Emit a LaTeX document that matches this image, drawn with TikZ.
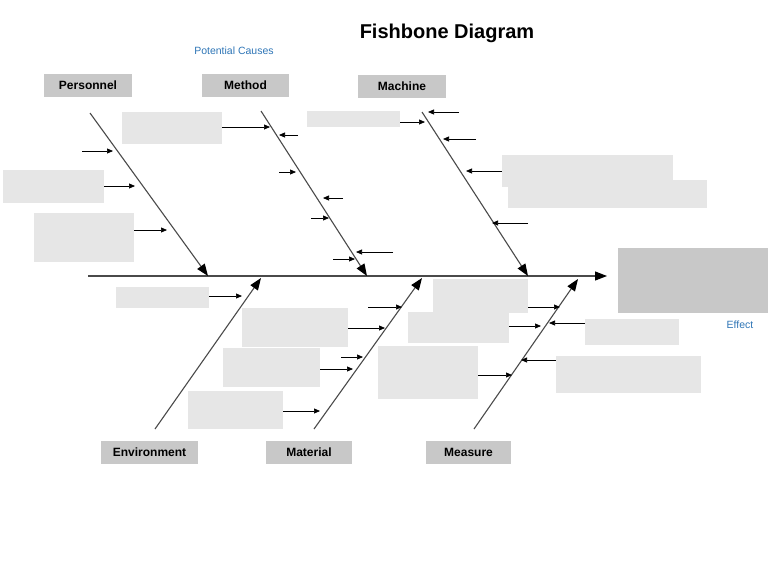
\documentclass[tikz,border=0pt]{standalone}
\usepackage{fontspec}
\setmainfont{Liberation Sans}
\usepackage{tikz}
\usetikzlibrary{positioning, arrows.meta}

\definecolor{causegray}{HTML}{E6E6E6}
\definecolor{labelgray}{HTML}{C8C8C8}
\definecolor{bonegray}{HTML}{4A4A4A}
\definecolor{noteblue}{HTML}{2E75B6}

\tikzset{
  category/.style={fill=labelgray, inner sep=0pt, minimum height=23pt,
    font=\bfseries\fontsize{12}{14}\selectfont},
  cause/.style={fill=causegray, inner sep=0pt},
  bone/.style={bonegray, line width=1.1pt,
    -{Triangle[length=12pt,width=9pt,color=black]}},
  twig/.style={black, line width=0.7pt, -{Triangle[length=6pt,width=5pt]}},
  note/.style={noteblue, font=\fontsize{10.5}{12}\selectfont},
}

\begin{document}
\begin{tikzpicture}[x=1pt, y=-1pt]
\useasboundingbox (0,0) rectangle (768,563);

% title and notes
\node[font=\bfseries\fontsize{20}{24}\selectfont] (title) at (447,33) {Fishbone Diagram};
\node[note] (causes) at (234,51) {Potential Causes};
\node[note] (effectnote) at (740,325) {Effect};

% categories
\node[category, minimum width=88pt] (pers) at (88,85.5) {Personnel};
\node[category, minimum width=87pt] (meth) at (245.5,85) {Method};
\node[category, minimum width=88pt] (mach) at (402,86) {Machine};
\node[category, minimum width=97pt] (envi) at (149.5,452.5) {Environment};
\node[category, minimum width=86pt] (mate) at (309,452) {Material};
\node[category, minimum width=85pt] (meas) at (468.5,452.5) {Measure};

% effect box
\node[fill=labelgray, inner sep=0pt, minimum width=150pt, minimum height=65pt] (effect) at (693,280.5) {};

% cause boxes (empty)
\node[cause, minimum width=100pt, minimum height=32pt] (c1) at (172,128) {};
\node[cause, minimum width=101pt, minimum height=33pt] (c2) at (53.5,186.5) {};
\node[cause, minimum width=100pt, minimum height=49pt] (c3) at (84,237.5) {};
\node[cause, minimum width=93pt, minimum height=16pt] (c4) at (353.5,119) {};
\node[cause, minimum width=171pt, minimum height=32pt] (c5) at (587.5,171) {};
\node[cause, minimum width=199pt, minimum height=28pt] (c6) at (607.5,194) {};
\node[cause, minimum width=93pt, minimum height=21pt] (c7) at (162.5,297.5) {};
\node[cause, minimum width=106pt, minimum height=39pt] (c8) at (295,327.5) {};
\node[cause, minimum width=97pt, minimum height=39pt] (c9) at (271.5,367.5) {};
\node[cause, minimum width=95pt, minimum height=38pt] (c10) at (235.5,410) {};
\node[cause, minimum width=95pt, minimum height=34pt] (c11) at (480.5,296) {};
\node[cause, minimum width=101pt, minimum height=31pt] (c12) at (458.5,327.5) {};
\node[cause, minimum width=100pt, minimum height=53pt] (c13) at (428,372.5) {};
\node[cause, minimum width=94pt, minimum height=26pt] (c14) at (632,332) {};
\node[cause, minimum width=145pt, minimum height=37pt] (c15) at (628.5,374.5) {};

% spine and bones
\coordinate (tail) at (88,276);
\coordinate (head) at (607,276);
\coordinate (b1s) at (90,113);
\coordinate (b1e) at (208,276);
\coordinate (b2s) at (261,111);
\coordinate (b2e) at (367,276);
\coordinate (b3s) at (422,112);
\coordinate (b3e) at (528,276);
\coordinate (b4s) at (155,429);
\coordinate (b4e) at (261,278);
\coordinate (b5s) at (314,429);
\coordinate (b5e) at (422,278);
\coordinate (b6s) at (474,429);
\coordinate (b6e) at (578,279);

\draw[bone] (tail) -- (head);
\draw[bone] (b1s) -- (b1e);
\draw[bone] (b2s) -- (b2e);
\draw[bone] (b3s) -- (b3e);
\draw[bone] (b4s) -- (b4e);
\draw[bone] (b5s) -- (b5e);
\draw[bone] (b6s) -- (b6e);

% twig ends
\coordinate (f1) at (82,151);   \coordinate (t1) at (113,151);
\coordinate (t2) at (135,186);
\coordinate (t3) at (167,230);
\coordinate (t4) at (270,127);
\coordinate (f5) at (298,135);  \coordinate (t5) at (279,135);
\coordinate (f6) at (279,172);  \coordinate (t6) at (296,172);
\coordinate (f7) at (343,198);  \coordinate (t7) at (323,198);
\coordinate (f8) at (311,218);  \coordinate (t8) at (329,218);
\coordinate (f9) at (393,252);  \coordinate (t9) at (356,252);
\coordinate (f10) at (333,259); \coordinate (t10) at (355,259);
\coordinate (t11) at (425,122);
\coordinate (f12) at (459,112); \coordinate (t12) at (428,112);
\coordinate (f13) at (476,139); \coordinate (t13) at (443,139);
\coordinate (t14) at (466,171);
\coordinate (f15) at (528,223); \coordinate (t15) at (492,223);
\coordinate (t16) at (242,296);
\coordinate (f17) at (368,307); \coordinate (t17) at (402,307);
\coordinate (t18) at (385,328);
\coordinate (f19) at (341,357); \coordinate (t19) at (363,357);
\coordinate (t20) at (353,369);
\coordinate (t21) at (320,411);
\coordinate (t22) at (560,307);
\coordinate (t23) at (541,326);
\coordinate (t24) at (512,375);
\coordinate (t25) at (549,323);
\coordinate (t26) at (521,360);

% personnel twigs
\draw[twig] (f1) -- (t1);
\draw[twig] (t2 -| c2.east) -- (t2);
\draw[twig] (t3 -| c3.east) -- (t3);

% method twigs
\draw[twig] (t4 -| c1.east) -- (t4);
\draw[twig] (f5) -- (t5);
\draw[twig] (f6) -- (t6);
\draw[twig] (f7) -- (t7);
\draw[twig] (f8) -- (t8);
\draw[twig] (f9) -- (t9);
\draw[twig] (f10) -- (t10);

% machine twigs
\draw[twig] (t11 -| c4.east) -- (t11);
\draw[twig] (f12) -- (t12);
\draw[twig] (f13) -- (t13);
\draw[twig] (t14 -| c5.west) -- (t14);
\draw[twig] (f15) -- (t15);

% environment and material twigs
\draw[twig] (t16 -| c7.east) -- (t16);
\draw[twig] (f17) -- (t17);
\draw[twig] (t18 -| c8.east) -- (t18);
\draw[twig] (f19) -- (t19);
\draw[twig] (t20 -| c9.east) -- (t20);
\draw[twig] (t21 -| c10.east) -- (t21);

% measure twigs
\draw[twig] (t22 -| c11.east) -- (t22);
\draw[twig] (t23 -| c12.east) -- (t23);
\draw[twig] (t24 -| c13.east) -- (t24);
\draw[twig] (t25 -| c14.west) -- (t25);
\draw[twig] (t26 -| c15.west) -- (t26);
\end{tikzpicture}
\end{document}
